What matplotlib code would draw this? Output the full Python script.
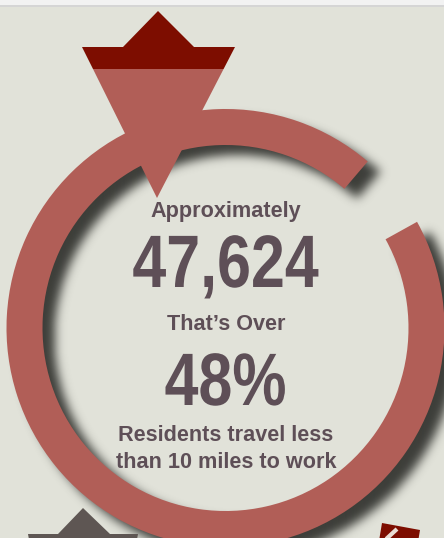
import numpy as np
import matplotlib
matplotlib.use("Agg")
import matplotlib.pyplot as plt
from matplotlib import patches
from matplotlib.patheffects import AbstractPathEffect
from matplotlib.transforms import Affine2D

# ── Content ────────────────────────────────────────────────────────────────
small_lines = ["Approximately", "That\u2019s Over",
               "Residents travel less", "than 10 miles to work"]
small_baselines = [217, 330, 441, 468]
big_values = ["47,624", "48%"]
big_baselines = [287, 405]

# ── Colours ────────────────────────────────────────────────────────────────
BG = "#e1e2d9"
RING = "#b15e57"
DARK_RED = "#7d0d00"
GREY = "#5e5653"
TEXT = "#5e4f57"
SHADOW = "#2e2f2b"

W, H = 444, 538
CX, CY = 225.5, 328.0
R_OUT, R_IN = 219.0, 183.0
GAP = (29.0, 49.5)  # screen angles (deg) left open at top right


class Squeeze(AbstractPathEffect):
    """Narrow the glyphs horizontally about a fixed x (display px)."""

    def __init__(self, xc, factor):
        super().__init__()
        self.xc = xc
        self.factor = factor

    def draw_path(self, renderer, gc, tpath, affine, rgbFace=None):
        sq = Affine2D().translate(-self.xc, 0).scale(self.factor, 1).translate(self.xc, 0)
        renderer.draw_path(gc, tpath, affine + sq, rgbFace)


def ring_mask(xx, yy):
    r = np.hypot(xx - CX, yy - CY)
    ang = np.degrees(np.arctan2(-(yy - CY), xx - CX)) % 360
    return ((r >= R_IN) & (r <= R_OUT) & ~((ang > GAP[0]) & (ang < GAP[1]))).astype(float)


def blur(a, s):
    rad = int(3 * s)
    k = np.exp(-0.5 * (np.arange(-rad, rad + 1) / s) ** 2)
    k /= k.sum()
    a = np.apply_along_axis(lambda m: np.convolve(m, k, mode="same"), 0, a)
    a = np.apply_along_axis(lambda m: np.convolve(m, k, mode="same"), 1, a)
    return a


fig = plt.figure(figsize=(W / 100, H / 100), dpi=100)
fig.patch.set_facecolor(BG)
ax = fig.add_axes([0, 0, 1, 1])
ax.set_xlim(0, W)
ax.set_ylim(H, 0)
ax.axis("off")
ax.set_facecolor(BG)

# top browser strip
ax.add_patch(patches.Rectangle((0, 0), W, 4.8, color="#f2f2f2", lw=0, zorder=1))
ax.add_patch(patches.Rectangle((0, 4.8), W, 1.8, color="#d5d5d5", lw=0, zorder=1))

# ── Ring shadow ────────────────────────────────────────────────────────────
pad = 40
dx, dy = 12, 10
ys, xs = np.mgrid[-pad:H + pad, -pad:W + pad] + 0.5
sh = blur(ring_mask(xs - dx, ys - dy), 5.0)[pad:pad + H, pad:pad + W]
rgba = np.zeros((H, W, 4))
rgba[..., :3] = matplotlib.colors.to_rgb(SHADOW)
rgba[..., 3] = np.clip(sh, 0, 1) * 0.92
ax.imshow(rgba, extent=(0, W, H, 0), origin="upper", zorder=2, aspect="auto",
          interpolation="bilinear")

# ── Ring ───────────────────────────────────────────────────────────────────
ring = patches.Wedge((CX, CY), R_OUT, theta1=-GAP[0], theta2=360 - GAP[1],
                     width=R_OUT - R_IN, facecolor=RING, edgecolor="none", zorder=3)
ax.add_patch(ring)

# ── Top marker (crown + inverted triangle) ─────────────────────────────────
ax.add_patch(patches.Polygon([(93, 69), (223.6, 69), (157, 198)],
                             closed=True, facecolor=RING, edgecolor="none", zorder=4))
ax.add_patch(patches.Polygon([(82, 47), (123, 47), (158, 11), (194, 47), (235, 47),
                              (223.6, 69), (93, 69)],
                             closed=True, facecolor=DARK_RED, edgecolor="none", zorder=4))

# bottom-left grey crown
ax.add_patch(patches.Polygon([(28, 534), (58, 534), (83, 508), (110, 534), (138, 534),
                              (136, 545), (30, 545)],
                             closed=True, facecolor=GREY, edgecolor="none", zorder=4))

# bottom-right small tag
ax.add_patch(patches.Polygon([(382, 523), (420, 530), (417, 548), (379, 541)],
                             closed=True, facecolor=DARK_RED, edgecolor="none", zorder=4))
ax.plot([384, 397], [541, 529], color="#eadcd3", lw=3, solid_capstyle="butt", zorder=5)

# ── Text ───────────────────────────────────────────────────────────────────
for txt, yb in zip(small_lines, small_baselines):
    ax.text(226, yb, txt, ha="center", va="baseline", color=TEXT,
            fontsize=15.6, fontweight="bold", family=["Liberation Sans", "DejaVu Sans"],
            zorder=6)

# big figures are set in a narrow cut: squeeze the bold face to ~82 %
for txt, yb in zip(big_values, big_baselines):
    ax.text(225.5, yb, txt, ha="center", va="baseline", color=TEXT,
            fontsize=53.5, fontweight="bold",
            family=["Liberation Sans", "DejaVu Sans"],
            path_effects=[Squeeze(225.5, 0.82)], zorder=6)

fig.savefig("out.png", dpi=100, facecolor=BG)
